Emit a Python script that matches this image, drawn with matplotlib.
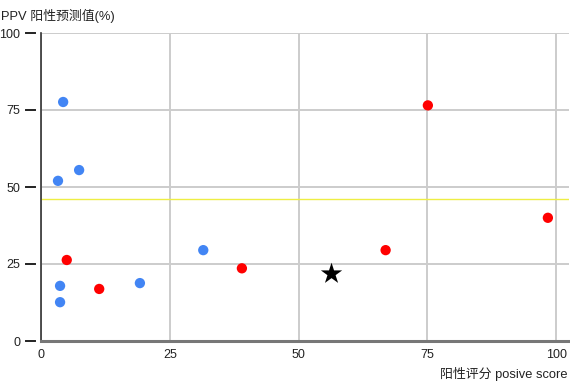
import matplotlib
matplotlib.use("Agg")
import matplotlib.pyplot as plt
import matplotlib.transforms as mtransforms

plt.rcParams['font.family'] = ['Liberation Sans', 'Noto Sans CJK SC', 'DejaVu Sans']

blue_x = [4.3, 3.3, 7.4, 3.7, 3.7, 19.2, 31.5]
blue_y = [77.6, 52.0, 55.5, 17.9, 12.6, 18.8, 29.5]
red_x = [5.0, 11.3, 39.0, 66.9, 75.1, 98.4]
red_y = [26.3, 16.9, 23.6, 29.5, 76.5, 40.0]
star_x = [56.4]
star_y = [21.8]
threshold = 46.0
xticks = [0, 25, 50, 75, 100]
yticks = [0, 25, 50, 75, 100]

fig = plt.figure(figsize=(5.7, 3.83), dpi=100)
ax = fig.add_axes([41/570, 1-341/383, (569-41)/570, (341-33)/383])
ax.set_xlim(0, 102.5)
ax.set_ylim(0, 100)

ax.set_xticks(xticks)
ax.set_yticks(yticks)
ax.grid(True, color='#cccccc', linewidth=1.4)
ax.set_axisbelow(True)

for s in ['top', 'right']:
    ax.spines[s].set_visible(False)
ax.spines['left'].set_color('#333333')
ax.spines['left'].set_linewidth(1.2)
ax.spines['bottom'].set_color('#777777')
ax.spines['bottom'].set_linewidth(2.2)

ax.tick_params(axis='x', length=0, pad=6, labelsize=9, labelcolor='#222222')
ax.tick_params(axis='y', length=0, pad=15, labelsize=9, labelcolor='#222222')

# y tick marks drawn detached from the axis
trans = mtransforms.blended_transform_factory(ax.transAxes, ax.transData)
for v in yticks:
    ax.plot([-15/528, -6/528], [v, v], color='#222222', lw=1.4, transform=trans, clip_on=False)

ax.axhline(threshold, color='#eeee44', lw=1.0, zorder=1.5)

ax.scatter(blue_x, blue_y, s=55, color='#4285f4', edgecolors='none', zorder=3)
ax.scatter(red_x, red_y, s=55, color='#ff0000', edgecolors='none', zorder=3)
ax.scatter(star_x, star_y, s=260, marker='*', color='black', edgecolors='none', zorder=3)

fig.text(1/570, 1-16/383, 'PPV 阳性预测值(%)', fontsize=9.3, color='#222222', va='center', ha='left')
fig.text(568/570, 1-374/383, '阳性评分 posive score', fontsize=9.3, color='#222222', va='center', ha='right')

fig.savefig('out.png', dpi=100)
